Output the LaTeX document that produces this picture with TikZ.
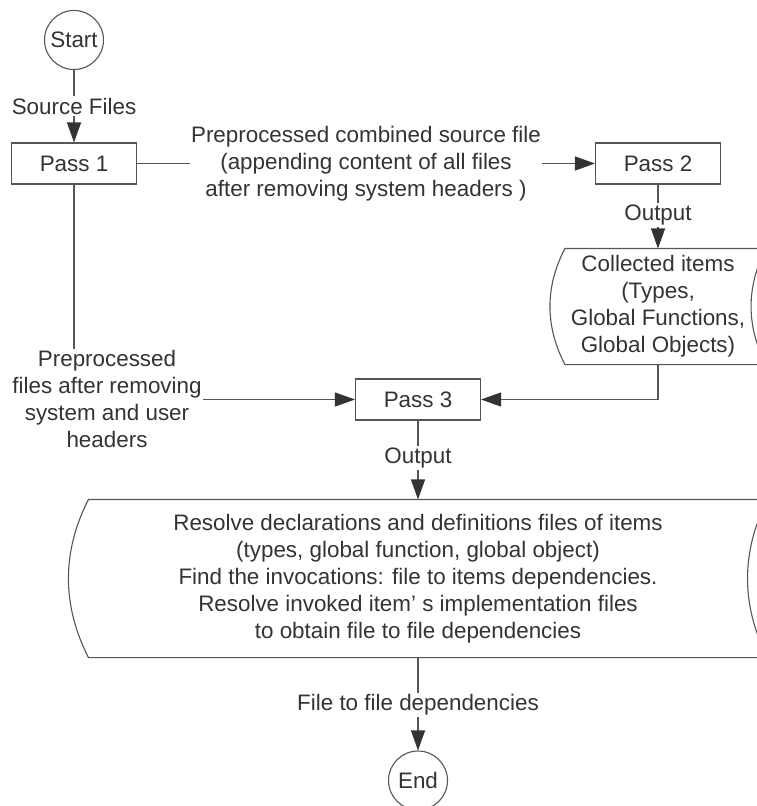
\documentclass[tikz,border=0pt]{standalone}
\usepackage{fontspec}
\setmainfont{Liberation Sans}
\usetikzlibrary{arrows.meta,calc}
\definecolor{ln}{HTML}{555555}
\definecolor{tx}{HTML}{333333}
\begin{document}
\begin{tikzpicture}[x=1pt,y=-1pt,
  font=\fontsize{22.4}{27}\selectfont, text=tx, line width=1.1pt,
  box/.style={draw=ln, rectangle, minimum width=125pt, minimum height=41pt, inner sep=0pt},
  term/.style={draw=ln, circle, minimum size=59pt, inner sep=0pt},
  lbl/.style={inner sep=1pt, align=center},
  store/.style={align=center, inner sep=0pt},
  conn/.style={draw=ln},
  arr/.style={draw=ln, -{Triangle[length=20pt,width=14pt,color=tx]}}]
\useasboundingbox (0,0) rectangle (756,806);

\node[term] (start) at (74,40) {Start};
\node[lbl] (srclbl) at (74,106) {Source Files};
\node[box] (p1) at (74,163.5) {Pass 1};
\node[lbl] (l12) at (366,163.5) {Preprocessed combined source file\\(appending content of all files\\after removing system headers )};
\node[box] (p2) at (658,163.5) {Pass 2};
\node[lbl] (out2) at (658,215) {Output};
\node[store, minimum width=185pt, minimum height=115pt] (coll) at (658,306.5) {Collected items\\(Types,\\Global Functions,\\Global Objects)};
\node[lbl] (l13) at (107,399) {Preprocessed\\files after removing\\system and user\\headers};
\node[box] (p3) at (418,399.5) {Pass 3};
\node[lbl] (out3) at (418,458) {Output};
\node[store, minimum width=658pt, minimum height=157pt] (big) at (418,578.5) {Resolve declarations and definitions files of items\\(types, global function, global object)\\Find the invocations: file to items dependencies.\\Resolve invoked item’ s implementation files\\to obtain file to file dependencies};
\node[lbl] (l4) at (418,705) {File to file dependencies};
\node[term] (end) at (418,780.5) {End};

% stored-data outlines
\draw[draw=ln] (coll.north west) .. controls +(-20,38.3) and +(-20,-38.3) .. (coll.south west)
  -- ($(coll.south east)+(15,0)$) .. controls +(-20,-38.3) and +(-20,38.3) .. ($(coll.north east)+(15,0)$) -- cycle;
\draw[draw=ln] (big.north west) .. controls +(-26.7,52.3) and +(-26.7,-52.3) .. (big.south west)
  -- ($(big.south east)+(20,0)$) .. controls +(-26.7,-52.3) and +(-26.7,52.3) .. ($(big.north east)+(20,0)$) -- cycle;

% connectors
\draw[conn] (start.south) -- (srclbl.north);
\draw[arr] (srclbl.south) -- (p1.north);
\draw[conn] (p1.east) -- (l12.west |- p1.east);
\draw[arr] (l12.east |- p1.east) -- (p2.west);
\draw[conn] (p2.south) -- (out2.north);
\draw[arr] (out2.south) -- (coll.north);
\draw[conn] (p1.south) -- (p1.south |- l13.north);
\draw[arr] (l13.east |- p3.west) -- (p3.west);
\draw[arr] (coll.south) |- (p3.east);
\draw[conn] (p3.south) -- (out3.north);
\draw[arr] (out3.south) -- (big.north);
\draw[conn] (big.south) -- (l4.north);
\draw[arr] (l4.south) -- (end.north);
\end{tikzpicture}
\end{document}
